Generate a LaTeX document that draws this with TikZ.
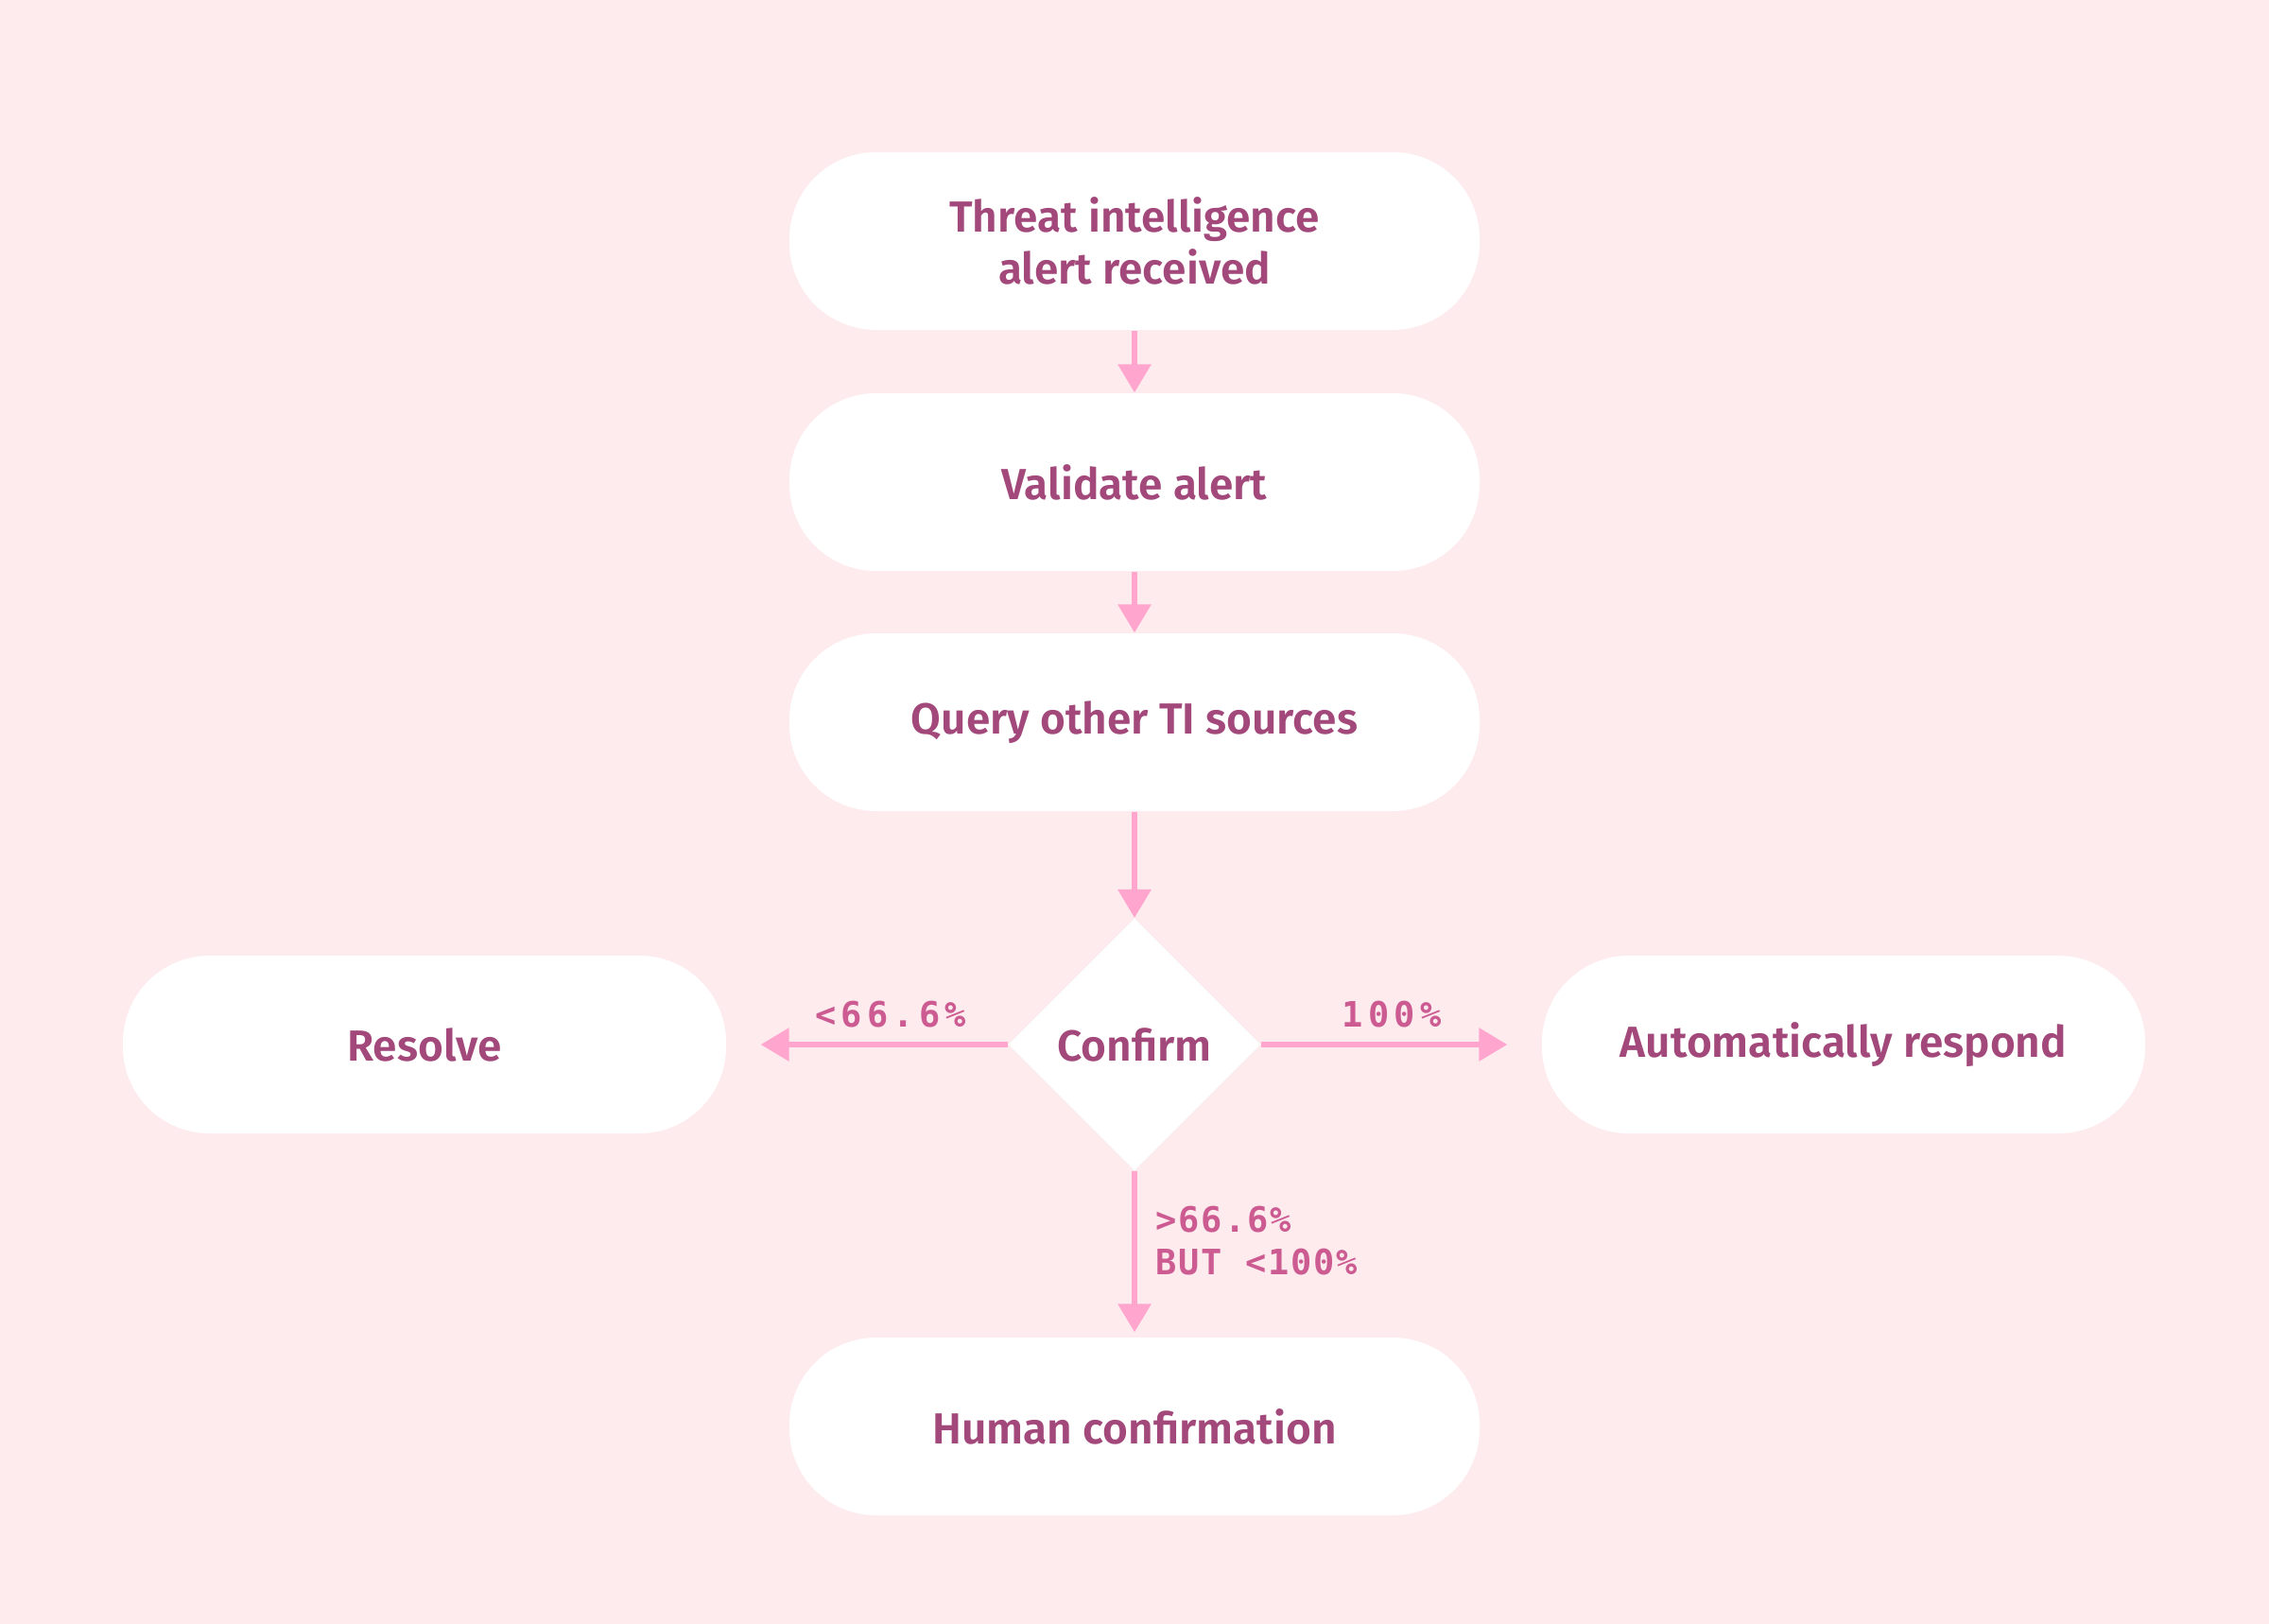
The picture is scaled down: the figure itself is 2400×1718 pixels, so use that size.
\documentclass[tikz,border=0pt]{standalone}
\usepackage{fontspec}
\usetikzlibrary{shapes.geometric,arrows.meta}
\IfFontExistsTF{Fira Sans SemiBold}{\newfontfamily\boxfont{Fira Sans SemiBold}}{%
  \IfFontExistsTF{Fira Sans Medium}{\newfontfamily\boxfont{Fira Sans Medium}}{%
    \newfontfamily\boxfontbase{Fira Sans}\newcommand\boxfont{\boxfontbase\bfseries}}}
\newfontfamily\labfontA{DejaVu Sans Mono}[LetterSpace=14]
\newfontfamily\labfontB{DejaVu Sans Mono}[LetterSpace=5]
\definecolor{bg}{HTML}{FEEBEE}
\definecolor{txt}{HTML}{A2487A}
\definecolor{lab}{HTML}{CC5B92}
\definecolor{arr}{HTML}{FFA5CE}
\begin{document}
\begin{tikzpicture}[x=0.3pt,y=-0.3pt,
  pill/.style={fill=white, rounded corners=27.5pt, minimum height=56.4pt,
    minimum width=219pt, inner sep=0pt, align=center, text=txt,
    font=\boxfont\fontsize{13.8}{16.7}\selectfont},
  dia/.style={diamond, fill=white, aspect=1, minimum width=80pt, minimum height=80pt,
    inner sep=0pt, text=txt, font=\boxfont\fontsize{13.8}{16.7}\selectfont},
  arrowline/.style={draw=arr, line width=1.8pt,
    -{Triangle[length=9pt,width=10.2pt]}},
  labA/.style={text=lab, inner sep=0pt, font=\labfontA\bfseries\fontsize{11.1}{13.5}\selectfont},
  labB/.style={text=lab, inner sep=0pt, align=left, font=\labfontB\bfseries\fontsize{11.1}{13.5}\selectfont}
]
\fill[bg] (0,0) rectangle (2400,1718);
\useasboundingbox (0,0) rectangle (2400,1718);

\node[pill] (t) at (1200,255) {Threat intelligence\\alert received};
\node[pill] (v) at (1200,510) {Validate alert};
\node[pill] (q) at (1200,764) {Query other TI sources};
\node[dia] (c) at (1200,1105) {Confirm};
\node[pill, minimum width=191.4pt] (r) at (449,1105) {Resolve};
\node[pill, minimum width=191.4pt] (a) at (1950,1105) {Automatically respond};
\node[pill] (h) at (1200,1509) {Human confirmation};

\draw[arrowline] (t) -- (v);
\draw[arrowline] (v) -- (q);
\draw[arrowline] (q) -- (c);
\draw[arrowline, shorten >=10.8pt] (c.west) -- (r.east);
\draw[arrowline, shorten >=10.8pt] (c.east) -- (a.west);
\draw[arrowline, shorten >=1.5pt] (c.south) -- (h.north);

\node[labA] (l1) at (942,1073) {<66.6\%};
\node[labA] (l2) at (1472,1073) {100\%};
\node[labB, anchor=north west] (l3) at (1222,1275) {>66.6\%\\BUT <100\%};
\end{tikzpicture}
\end{document}
